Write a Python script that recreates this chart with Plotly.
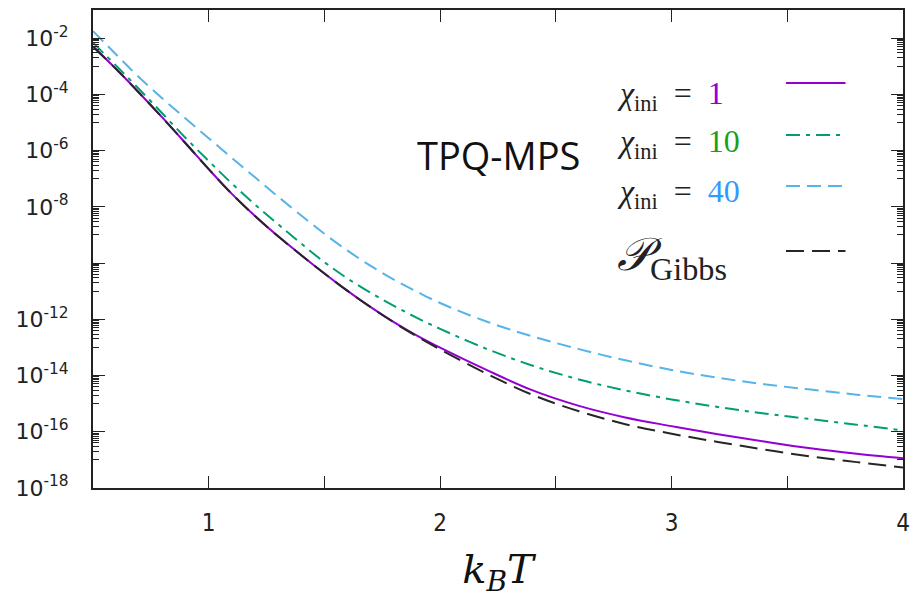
import plotly.graph_objects as go

# ---- data (log10 values of P vs k_B T) ----
T = [0.5, 0.6, 0.7, 0.8, 0.9, 1.0, 1.1, 1.2, 1.3, 1.4, 1.5, 1.6, 1.7, 1.8, 1.9,
     2.0, 2.2, 2.4, 2.6, 2.8, 3.0, 3.2, 3.4, 3.6, 3.8, 4.0]

log_gibbs = [-2.30, -3.10, -3.95, -4.83, -5.74, -6.66, -7.54, -8.33, -9.05, -9.72,
             -10.37, -10.99, -11.57, -12.11, -12.61, -13.07, -13.93, -14.69, -15.27,
             -15.73, -16.07, -16.36, -16.63, -16.88, -17.08, -17.27]
log_chi1 = [-2.30, -3.10, -3.95, -4.83, -5.74, -6.66, -7.54, -8.33, -9.05, -9.72,
            -10.37, -10.99, -11.57, -12.10, -12.58, -13.01, -13.80, -14.53, -15.08,
            -15.49, -15.80, -16.09, -16.35, -16.59, -16.78, -16.94]
log_chi10 = [-2.16, -2.98, -3.82, -4.68, -5.55, -6.37, -7.17, -7.92, -8.62, -9.31,
             -9.97, -10.55, -11.06, -11.52, -11.95, -12.34, -13.05, -13.65, -14.14,
             -14.53, -14.85, -15.12, -15.35, -15.55, -15.75, -15.95]
log_chi40 = [-1.75, -2.58, -3.40, -4.15, -4.86, -5.56, -6.26, -6.95, -7.64, -8.31,
             -8.96, -9.56, -10.10, -10.59, -11.02, -11.42, -12.08, -12.61, -13.06,
             -13.46, -13.80, -14.08, -14.31, -14.50, -14.68, -14.84]

x_tickvals = [1.0, 2.0, 3.0, 4.0]
x_ticktext = ["1", "2", "3", "4"]
x_minorvals = [0.5, 1.5, 2.5, 3.5]
y_exponents = [-18, -16, -14, -12, -10, -8, -6, -4, -2]
y_ticktext = ["10<sup>-18</sup>", "10<sup>-16</sup>", "10<sup>-14</sup>", "10<sup>-12</sup>",
              "", "10<sup>-8</sup>", "10<sup>-6</sup>", "10<sup>-4</sup>", "10<sup>-2</sup>"]

series = [
    ("χ_ini = 1", log_chi1, "#9400D3", "solid"),
    ("χ_ini = 10", log_chi10, "#009E73", "14px,6px,4px,6px"),
    ("χ_ini = 40", log_chi40, "#56B4E9", "14px,7px"),
    ("P_Gibbs", log_gibbs, "#262626", "18px,8px"),
]
legend_labels = [
    "<i>χ</i><sub>ini</sub>&nbsp; = &nbsp;<span style='color:#9400D3'>1</span>",
    "<i>χ</i><sub>ini</sub>&nbsp; = &nbsp;<span style='color:#1A9F1A'>10</span>",
    "<i>χ</i><sub>ini</sub>&nbsp; = &nbsp;<span style='color:#3399FF'>40</span>",
    "<i>𝒫</i><sub>Gibbs</sub>",
]

fig = go.Figure()
for name, vals, color, dash in series:
    fig.add_trace(go.Scatter(
        x=T, y=[10 ** v for v in vals], mode="lines", name=name,
        line=dict(color=color, width=2, dash=dash, shape="spline", smoothing=1.0),
        showlegend=False,
    ))

# plot area geometry (pixels) for legend placement
L, R, TOP, BOT = 93, 910, 10, 488
W, H = R - L, BOT - TOP


def px(xp):
    return (xp - L) / W


def py(yp):
    return (BOT - yp) / H


legend_text_y = [96, 143, 193, 258]
legend_line_y = [83, 135, 186, 251]
legend_sizes = [32, 32, 32, 46]
for (name, vals, color, dash), lab, ty, ly, fs in zip(series, legend_labels, legend_text_y,
                                                     legend_line_y, legend_sizes):
    fig.add_annotation(xref="paper", yref="paper", x=px(620), y=py(ty), text=lab,
                       showarrow=False, xanchor="left", yanchor="middle",
                       font=dict(family="Liberation Serif", size=fs, color="#222222"))
    fig.add_shape(type="line", xref="paper", yref="paper", x0=px(792), x1=px(852),
                  y0=py(ly), y1=py(ly), line=dict(color=color, width=2, dash=dash))

fig.add_annotation(xref="paper", yref="paper", x=px(502), y=py(155), text="TPQ-MPS",
                   showarrow=False, xanchor="center", yanchor="middle",
                   font=dict(family="Open Sans", size=38, color="#111111"))

minor_vals = []
for e in y_exponents:
    for k in range(1, 10):
        v = k * 10 ** (e - 1)
        if 1e-18 <= v <= 1e-1:
            minor_vals.append(v)

fig.update_layout(
    width=918, height=598,
    margin=dict(l=L, r=918 - R, t=TOP, b=598 - BOT),
    paper_bgcolor="white", plot_bgcolor="white",
    xaxis=dict(
        range=[0.5, 4.0], tickvals=x_tickvals, ticktext=x_ticktext,
        ticks="inside", ticklen=12, tickwidth=1, tickcolor="#222",
        showline=True, linecolor="#222", linewidth=2, mirror="ticks",
        showgrid=False, zeroline=False, ticklabelstandoff=12,
        tickfont=dict(family="DejaVu Sans Condensed, DejaVu Sans", size=24, color="#222"),
        minor=dict(tickvals=x_minorvals, ticks="inside", ticklen=12, tickcolor="#222",
                   showgrid=False),
        title=dict(text="<i>k</i><sub><i>B</i></sub><i>T</i>", standoff=22,
                   font=dict(family="DejaVu Serif", size=40, color="#111")),
    ),
    yaxis=dict(
        type="log", range=[-18, -1],
        tickvals=[10 ** e for e in y_exponents], ticktext=y_ticktext,
        ticks="inside", ticklen=12, tickwidth=1, tickcolor="#222",
        showline=True, linecolor="#222", linewidth=2, mirror="ticks",
        showgrid=False, zeroline=False, ticklabelstandoff=18,
        tickfont=dict(family="DejaVu Sans", size=22, color="#222"),
        minor=dict(tickvals=minor_vals, ticks="inside", ticklen=6, tickcolor="#222",
                   showgrid=False),
    ),
)

fig.write_html("out.html")
